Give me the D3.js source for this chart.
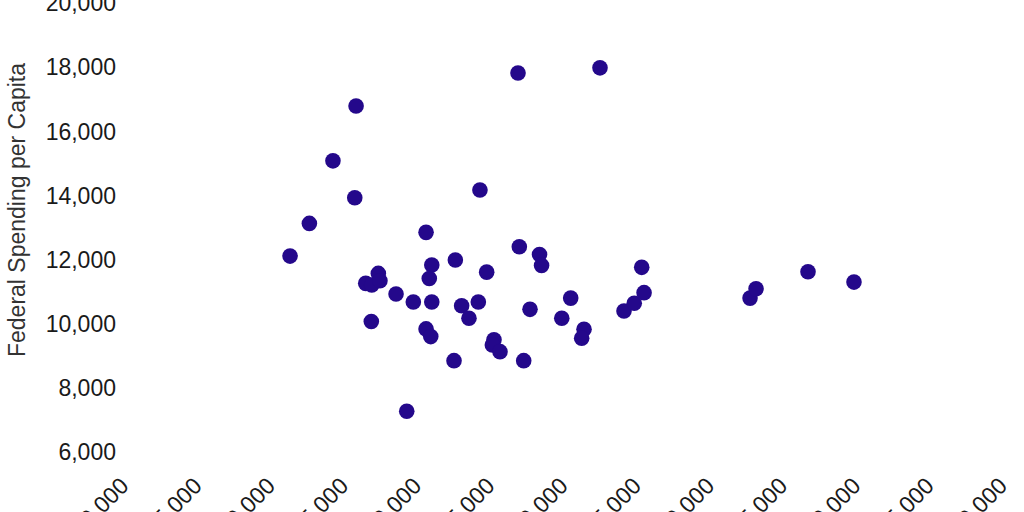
<!DOCTYPE html>
<html>
  <head>
    <title>Federal Spending per Capita</title>
    <script src="https://d3js.org/d3.v7.min.js"></script>
    <style>
      body { margin: 0; background: #fff; }
      svg { display: block; }
      .axis text {
        font-size: 23px;
        fill: #1a1a1a;
        font-family: "Liberation Sans", Arial, sans-serif;
      }
      .axis__label {
        font-size: 23px;
        fill: #333;
        font-family: "Liberation Sans", Arial, sans-serif;
      }
    </style>
  </head>
  <body>
    <svg width="1024" height="512"></svg>
    <script>
      // x: household income, y: federal spending per capita
      const income = [
        40960, 42280, 43890, 45470, 45380, 46130, 46540, 46990, 47100, 46510,
        48200, 48930, 49380, 50250, 50640, 50470, 50640, 50250, 50570, 52250,
        52160, 52680, 53180, 53820, 53930, 54390, 54890, 54780, 55300, 56530,
        56620, 56920, 57350, 58000, 58140, 59520, 60130, 61040, 60880, 62130,
        63770, 64470, 64980, 65140, 72380, 72790, 76340, 79480
      ];
      const spending = [
        12120, 13140, 15090, 16800, 13940, 11270, 11220, 11580, 11350, 10080,
        10940, 7280, 10690, 12860, 11840, 11420, 10690, 9850, 9610, 12000,
        8860, 10570, 10180, 10690, 14180, 11620, 9510, 9350, 9140, 17830,
        12410, 8860, 10460, 12170, 11830, 10180, 10810, 9840, 9560, 17990,
        10410, 10650, 11770, 10980, 10810, 11100, 11630, 11310
      ];
      const xTicks = [30000, 35000, 40000, 45000, 50000, 55000, 60000,
                      65000, 70000, 75000, 80000, 85000, 90000];
      const yTicks = [6000, 8000, 10000, 12000, 14000, 16000, 18000, 20000];

      const points = income.map((d, i) => ({ x: d, y: spending[i] }));

      const svg = d3.select("svg");
      const axisY = 487.3;

      const xScale = d3.scaleLinear()
        .domain([25000, 95000])
        .range([56.4, 1081.2]);
      const yScale = d3.scaleLinear()
        .domain([4000, 20000])
        .range([516.5, 3.4]);

      const yAxisG = svg.append("g")
        .attr("class", "axis axis--y")
        .attr("transform", "translate(116, 0)")
        .call(d3.axisLeft(yScale)
          .tickValues(yTicks)
          .tickSize(0)
          .tickPadding(0)
          .tickFormat(d3.format(",")));
      yAxisG.select(".domain").remove();

      const xAxisG = svg.append("g")
        .attr("class", "axis axis--x")
        .attr("transform", `translate(0, ${axisY})`)
        .call(d3.axisBottom(xScale)
          .tickValues(xTicks)
          .tickSize(0)
          .tickFormat(d3.format(",")));
      xAxisG.select(".domain").remove();
      xAxisG.selectAll(".tick text")
        .attr("x", 0)
        .attr("y", 0)
        .attr("dy", 0)
        .attr("transform", "rotate(-45)")
        .style("text-anchor", "end");

      svg.append("text")
        .attr("class", "axis__label")
        .attr("transform", "translate(25, 210) rotate(-90)")
        .attr("text-anchor", "middle")
        .text("Federal Spending per Capita");

      svg.append("g")
        .selectAll("circle")
        .data(points)
        .enter().append("circle")
          .attr("cx", d => xScale(d.x))
          .attr("cy", d => yScale(d.y))
          .attr("r", 7.8)
          .attr("fill", "#24088b");
    </script>
  </body>
</html>
